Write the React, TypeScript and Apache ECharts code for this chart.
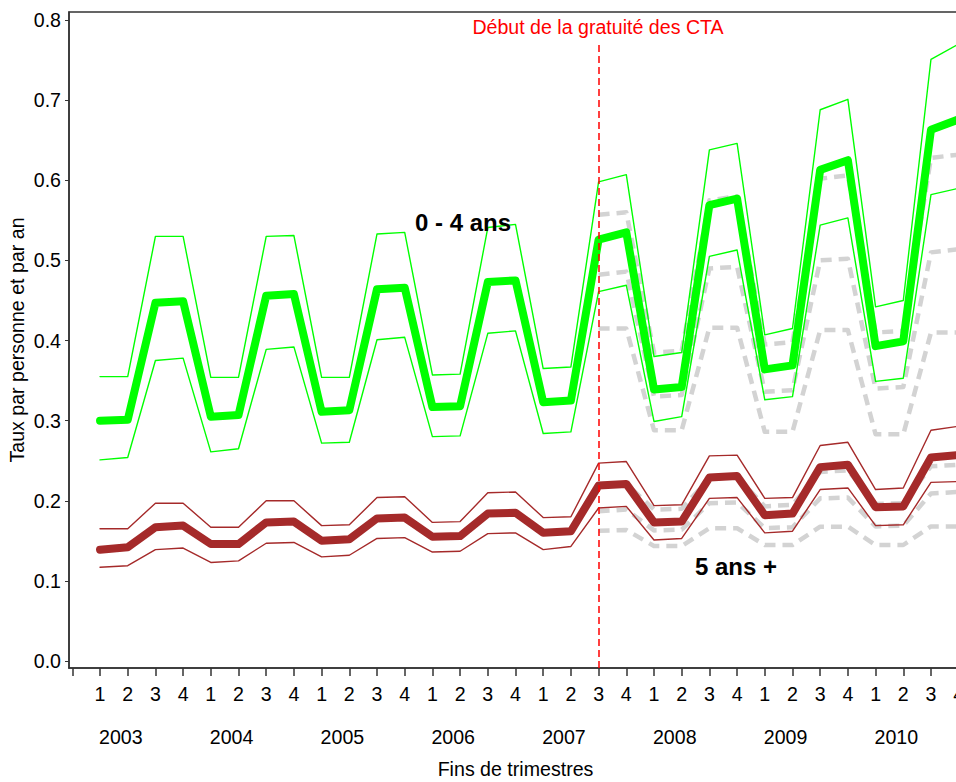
import React, { useEffect, useRef } from "react";
import * as echarts from "echarts";

// ---- Data ----
const years = [2003, 2004, 2005, 2006, 2007, 2008, 2009, 2010];
const quarters = ["1", "2", "3", "4"];
const yTickValues = [0, 0.1, 0.2, 0.3, 0.4, 0.5, 0.6, 0.7, 0.8];

// 0 - 4 ans (observed), 2003Q1 .. 2010Q4
const young = [
  0.300, 0.301, 0.447, 0.449,
  0.305, 0.307, 0.456, 0.458,
  0.311, 0.313, 0.464, 0.466,
  0.317, 0.318, 0.473, 0.475,
  0.323, 0.325, 0.526, 0.535,
  0.339, 0.342, 0.569, 0.577,
  0.364, 0.369, 0.613, 0.625,
  0.393, 0.399, 0.663, 0.676,
];
const youngUpper = [
  0.355, 0.355, 0.530, 0.530,
  0.354, 0.354, 0.530, 0.531,
  0.354, 0.354, 0.533, 0.535,
  0.357, 0.358, 0.541, 0.545,
  0.365, 0.367, 0.598, 0.607,
  0.380, 0.385, 0.638, 0.646,
  0.407, 0.415, 0.688, 0.701,
  0.442, 0.450, 0.751, 0.770,
];
const youngLower = [
  0.251, 0.254, 0.375, 0.378,
  0.261, 0.265, 0.389, 0.392,
  0.272, 0.273, 0.401, 0.404,
  0.280, 0.281, 0.409, 0.412,
  0.284, 0.286, 0.461, 0.469,
  0.299, 0.305, 0.505, 0.513,
  0.326, 0.330, 0.544, 0.553,
  0.349, 0.353, 0.582, 0.590,
];

// 5 ans + (observed)
const older = [
  0.139, 0.142, 0.167, 0.169,
  0.146, 0.146, 0.173, 0.174,
  0.150, 0.152, 0.178, 0.179,
  0.155, 0.156, 0.184, 0.185,
  0.160, 0.162, 0.219, 0.221,
  0.173, 0.174, 0.229, 0.231,
  0.182, 0.184, 0.242, 0.245,
  0.192, 0.193, 0.254, 0.257,
];
const olderUpper = [
  0.165, 0.165, 0.197, 0.197,
  0.167, 0.167, 0.200, 0.200,
  0.169, 0.170, 0.204, 0.205,
  0.173, 0.174, 0.210, 0.211,
  0.179, 0.180, 0.247, 0.249,
  0.194, 0.195, 0.256, 0.257,
  0.203, 0.204, 0.269, 0.273,
  0.214, 0.216, 0.288, 0.293,
];
const olderLower = [
  0.117, 0.119, 0.139, 0.141,
  0.123, 0.125, 0.147, 0.148,
  0.130, 0.132, 0.153, 0.154,
  0.136, 0.137, 0.159, 0.160,
  0.139, 0.143, 0.191, 0.193,
  0.151, 0.153, 0.203, 0.204,
  0.160, 0.162, 0.214, 0.216,
  0.169, 0.170, 0.223, 0.224,
];

// Counterfactual (grey dashed) from 2007Q3 to 2010Q4
const cfStartQuarter = 19; // 2007Q3 as quarter index (2003Q1 = 1)
const youngCfUpper = [0.557, 0.560, 0.385, 0.387, 0.575, 0.580, 0.395, 0.398, 0.602, 0.606, 0.410, 0.412, 0.628, 0.632];
const youngCf = [0.482, 0.486, 0.330, 0.332, 0.490, 0.492, 0.336, 0.338, 0.500, 0.502, 0.340, 0.342, 0.510, 0.514];
const youngCfLower = [0.415, 0.415, 0.288, 0.288, 0.416, 0.416, 0.286, 0.286, 0.413, 0.413, 0.283, 0.283, 0.410, 0.410];
const olderCfUpper = [0.218, 0.221, 0.189, 0.190, 0.228, 0.230, 0.193, 0.195, 0.236, 0.238, 0.196, 0.197, 0.243, 0.245];
const olderCf = [0.187, 0.189, 0.163, 0.164, 0.197, 0.198, 0.166, 0.167, 0.203, 0.204, 0.168, 0.169, 0.209, 0.211];
const olderCfLower = [0.1625, 0.1635, 0.1436, 0.1436, 0.1657, 0.1657, 0.1448, 0.1448, 0.1677, 0.1677, 0.1448, 0.1448, 0.168, 0.168];

const eventQuarter = 19; // 2007Q3
const eventLabel = "Début de la gratuité des CTA";

// ---- Styles ----
const FONT = '"Liberation Sans", Arial, sans-serif';
const FS = 19.6;
const GREEN = "#00ff00";
const BROWN = "#a52a2a";
const GREY = "#d3d3d3";
const AXIS = "#333333";

function toPoints(values: number[], start: number) {
  return values.map((v, k) => [start + k, v]);
}

function lineSeries(
  name: string,
  values: number[],
  start: number,
  color: string,
  width: number,
  dashed: boolean,
  z: number
) {
  return {
    type: "line",
    name,
    data: toPoints(values, start),
    showSymbol: false,
    symbol: "none",
    silent: true,
    z,
    lineStyle: {
      color,
      width,
      type: dashed ? [11, 7] : "solid",
      cap: dashed ? "butt" : "round",
      join: "round",
    },
  };
}

export default function App() {
  const ref = useRef<HTMLDivElement>(null);

  useEffect(() => {
    if (!ref.current) return;
    const chart = echarts.init(ref.current, undefined, { renderer: "svg" });

    const nQ = years.length * quarters.length;
    const tickValues: number[] = [];
    for (let i = 0; i <= nQ; i++) tickValues.push(i);
    const quarterPositions: number[] = [];
    for (let i = 1; i <= nQ; i++) quarterPositions.push(i);
    const yearPositions = years.map((_, k) => 1.75 + 4 * k);

    const xMin = -0.12;
    const xMax = nQ + 0.12;
    const yMin = -0.0087;
    const yMax = 0.81;

    const option: any = {
      animation: false,
      backgroundColor: "#ffffff",
      textStyle: { fontFamily: FONT },
      grid: {
        left: 69,
        top: 12,
        width: 893,
        height: 656,
        show: true,
        borderColor: AXIS,
        borderWidth: 1.5,
        backgroundColor: "transparent",
        containLabel: false,
        outerBoundsMode: "none",
      },
      xAxis: [
        {
          type: "value",
          min: xMin,
          max: xMax,
          position: "bottom",
          axisLine: { show: true, onZero: false, lineStyle: { color: AXIS, width: 1.5 } },
          axisTick: { show: true, customValues: tickValues, length: 8, lineStyle: { color: AXIS, width: 1.5 } },
          axisLabel: {
            show: true,
            customValues: quarterPositions,
            formatter: (v: number) => quarters[(Math.round(v) - 1) % 4],
            margin: 16,
            color: "#000",
            fontSize: FS,
            fontFamily: FONT,
          },
          splitLine: { show: false },
          name: "Fins de trimestres",
          nameLocation: "middle",
          nameGap: 91,
          nameMoveOverlap: false,
          nameTextStyle: { color: "#000", fontSize: FS, fontFamily: FONT },
        },
        {
          type: "value",
          min: xMin,
          max: xMax,
          position: "bottom",
          axisLine: { show: false, onZero: false },
          axisTick: { show: false },
          axisLabel: {
            show: true,
            customValues: yearPositions,
            formatter: (v: number) => String(years[Math.round((v - 1.75) / 4)]),
            margin: 59,
            color: "#000",
            fontSize: FS,
            fontFamily: FONT,
          },
          splitLine: { show: false },
        },
      ],
      yAxis: {
        type: "value",
        min: yMin,
        max: yMax,
        axisLine: { show: true, onZero: false, lineStyle: { color: AXIS, width: 1.5 } },
        axisTick: { show: true, customValues: yTickValues, length: 4, lineStyle: { color: AXIS, width: 1 } },
        axisLabel: {
          show: true,
          customValues: yTickValues,
          formatter: (v: number) => v.toFixed(1),
          margin: 8,
          color: "#000",
          fontSize: FS,
          fontFamily: FONT,
        },
        splitLine: { show: false },
        name: "Taux par personne et par an",
        nameLocation: "middle",
        nameGap: 42,
        nameMoveOverlap: false,
        nameRotate: 90,
        nameTextStyle: { color: "#000", fontSize: FS, fontFamily: FONT },
      },
      series: [
        lineSeries("0-4 cf haut", youngCfUpper, cfStartQuarter, GREY, 4.5, true, 2),
        lineSeries("0-4 cf", youngCf, cfStartQuarter, GREY, 4.5, true, 2),
        lineSeries("0-4 cf bas", youngCfLower, cfStartQuarter, GREY, 4.5, true, 2),
        lineSeries("5+ cf haut", olderCfUpper, cfStartQuarter, GREY, 4.5, true, 2),
        lineSeries("5+ cf", olderCf, cfStartQuarter, GREY, 4.5, true, 2),
        lineSeries("5+ cf bas", olderCfLower, cfStartQuarter, GREY, 4.5, true, 2),
        lineSeries("0-4 haut", youngUpper, 1, GREEN, 1.4, false, 3),
        lineSeries("0-4 bas", youngLower, 1, GREEN, 1.4, false, 3),
        lineSeries("5+ haut", olderUpper, 1, BROWN, 1.4, false, 3),
        lineSeries("5+ bas", olderLower, 1, BROWN, 1.4, false, 3),
        lineSeries("0 - 4 ans", young, 1, GREEN, 8, false, 4),
        {
          ...lineSeries("5 ans +", older, 1, BROWN, 8, false, 4),
          markLine: {
            silent: true,
            symbol: "none",
            label: { show: false },
            lineStyle: { color: "#ff0000", width: 1.5, type: [7, 4] },
            data: [[{ coord: [eventQuarter, yMin] }, { coord: [eventQuarter, 0.771] }]],
          },
        },
      ],
      graphic: [
        {
          type: "text",
          x: 598,
          y: 27,
          z: 100,
          style: {
            text: eventLabel,
            fill: "#ff0000",
            fontSize: FS,
            fontFamily: FONT,
            align: "center",
            verticalAlign: "middle",
          },
        },
        {
          type: "text",
          x: 415,
          y: 222,
          z: 100,
          style: {
            text: "0 - 4 ans",
            fill: "#000",
            fontSize: 24,
            fontWeight: "bold",
            fontFamily: FONT,
            align: "left",
            verticalAlign: "middle",
          },
        },
        {
          type: "text",
          x: 695,
          y: 566,
          z: 100,
          style: {
            text: "5 ans +",
            fill: "#000",
            fontSize: 24,
            fontWeight: "bold",
            fontFamily: FONT,
            align: "left",
            verticalAlign: "middle",
          },
        },
      ],
    };

    chart.setOption(option);
    return () => {
      chart.dispose();
    };
  }, []);

  return (
    <div
      ref={ref}
      style={{ position: "fixed", left: 0, top: 0, width: 956, height: 782, background: "#fff" }}
    />
  );
}
